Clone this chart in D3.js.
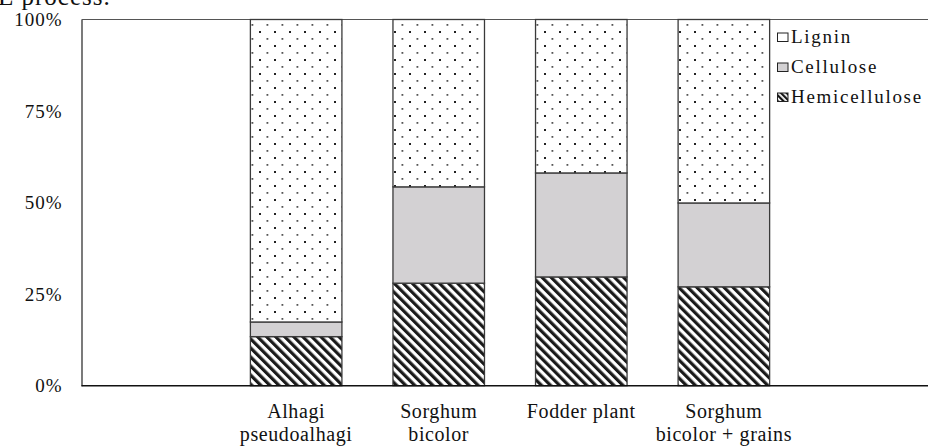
<!DOCTYPE html>
<html>
<head>
<meta charset="utf-8">
<script src="https://cdn.jsdelivr.net/npm/d3@7"></script>
<style>
  html, body { margin: 0; padding: 0; background: #fff; }
  svg { display: block; }
  text { font-family: "Liberation Serif", "DejaVu Serif", serif; fill: #111; }
</style>
</head>
<body>
<svg id="chart" width="928" height="446"></svg>
<script>
// ---- data ----
const slots = ["", "Alhagi pseudoalhagi", "Sorghum bicolor", "Fodder plant", "Sorghum bicolor + grains", " "];
const categories = ["Alhagi pseudoalhagi", "Sorghum bicolor", "Fodder plant", "Sorghum bicolor + grains"];
const categoryLines = [["Alhagi", "pseudoalhagi"], ["Sorghum", "bicolor"], ["Fodder plant"], ["Sorghum", "bicolor + grains"]];
const hemicellulose = [13.4, 28.0, 29.7, 27.0];
const cellulose = [4.0, 26.3, 28.4, 22.9];
const lignin = [82.6, 45.7, 41.9, 50.1];
const seriesNames = ["Hemicellulose", "Cellulose", "Lignin"];
const legendOrder = ["Lignin", "Cellulose", "Hemicellulose"];
const yTicks = [0, 0.25, 0.5, 0.75, 1];

// ---- layout ----
const svg = d3.select("#chart");
const mLeft = 81.5, mTop = 19.5, mBottom = 385.7;

const x = d3.scaleBand().domain(slots).range([82.3, 82.3 + 6 * 142.57]).paddingInner(0.358).paddingOuter(0.179);
const y = d3.scaleLinear().domain([0, 1]).range([mBottom, mTop]);

// ---- patterns ----
const defs = svg.append("defs");
const dots = defs.append("pattern").attr("id", "dots").attr("patternUnits", "userSpaceOnUse")
  .attr("width", 15).attr("height", 14).attr("x", 4).attr("y", 3);
dots.append("rect").attr("width", 15).attr("height", 14).attr("fill", "#fff");
dots.append("rect").attr("x", 0).attr("y", 0).attr("width", 2).attr("height", 2).attr("fill", "#222");
dots.append("rect").attr("x", 7.5).attr("y", 7).attr("width", 1.8).attr("height", 1.8).attr("fill", "#555");

const stripes = defs.append("pattern").attr("id", "stripes").attr("patternUnits", "userSpaceOnUse")
  .attr("width", 6.4).attr("height", 10).attr("patternTransform", "rotate(-45)");
stripes.append("rect").attr("width", 6.4).attr("height", 10).attr("fill", "#fff");
stripes.append("rect").attr("width", 3.2).attr("height", 10).attr("fill", "#1a1a1a");

const ss = defs.append("pattern").attr("id", "stripesSmall").attr("patternUnits", "userSpaceOnUse")
  .attr("width", 4).attr("height", 10).attr("patternTransform", "rotate(-45)");
ss.append("rect").attr("width", 4).attr("height", 10).attr("fill", "#fff");
ss.append("rect").attr("width", 2.2).attr("height", 10).attr("fill", "#111");

const fills = { "Lignin": "url(#dots)", "Cellulose": "#d3d1d3", "Hemicellulose": "url(#stripes)" };
const legendFills = { "Lignin": "#fff", "Cellulose": "#d3d1d3", "Hemicellulose": "url(#stripesSmall)" };

// ---- stack ----
const rows = categories.map((c, i) => ({
  cat: c,
  Hemicellulose: hemicellulose[i] / 100,
  Cellulose: cellulose[i] / 100,
  Lignin: lignin[i] / 100
}));
const stacked = d3.stack().keys(seriesNames)(rows);

// ---- frame ----
svg.append("line").attr("x1", mLeft).attr("x2", 928).attr("y1", mTop).attr("y2", mTop)
  .attr("stroke", "#555").attr("stroke-width", 1.2);

// ---- bars ----
const g = svg.append("g");
stacked.forEach(layer => {
  g.selectAll(null).data(layer).enter().append("rect")
    .attr("x", d => x(d.data.cat))
    .attr("width", x.bandwidth())
    .attr("y", d => y(d[1]))
    .attr("height", d => y(d[0]) - y(d[1]))
    .attr("fill", fills[layer.key])
    .attr("stroke", "#3a3a3a")
    .attr("stroke-width", 1.3);
});

// ---- axes ----
const yAxis = d3.axisLeft(y).tickValues(yTicks).tickSize(0).tickPadding(19)
  .tickFormat(d3.format(".0%"));
const ya = svg.append("g").attr("transform", `translate(${mLeft},0)`).call(yAxis);
ya.select(".domain").attr("stroke", "#222").attr("stroke-width", 1.2);
ya.selectAll("text").attr("font-size", 19).attr("letter-spacing", 1)
  .attr("font-family", "Liberation Serif, serif").attr("fill", "#111");

svg.append("line").attr("x1", mLeft).attr("x2", 928).attr("y1", mBottom).attr("y2", mBottom)
  .attr("stroke", "#111").attr("stroke-width", 1.5);

// x labels
const xl = svg.append("g");
categories.forEach((c, i) => {
  const cx = x(c) + x.bandwidth() / 2;
  const t = xl.append("text").attr("text-anchor", "middle").attr("font-size", 20)
    .attr("letter-spacing", 0.6).attr("x", cx).attr("y", 418);
  categoryLines[i].forEach((line, j) => {
    t.append("tspan").attr("x", cx).attr("dy", j === 0 ? 0 : 23).text(line);
  });
});

// ---- legend ----
const legend = svg.append("g").attr("transform", "translate(777,0)");
legendOrder.forEach((k, i) => {
  const by = 43 + i * 30;
  legend.append("rect").attr("x", 0.5).attr("y", by - 10).attr("width", 10.5).attr("height", 8.5)
    .attr("fill", legendFills[k])
    .attr("stroke", "#222").attr("stroke-width", 1);
  legend.append("text").attr("x", 14).attr("y", by).attr("font-size", 19)
    .attr("letter-spacing", 1.7).text(k);
});

// ---- clipped caption at top ----
svg.append("text").attr("x", -2).attr("y", 5).attr("font-size", 25).attr("letter-spacing", 1).text("E process.");
</script>
</body>
</html>
